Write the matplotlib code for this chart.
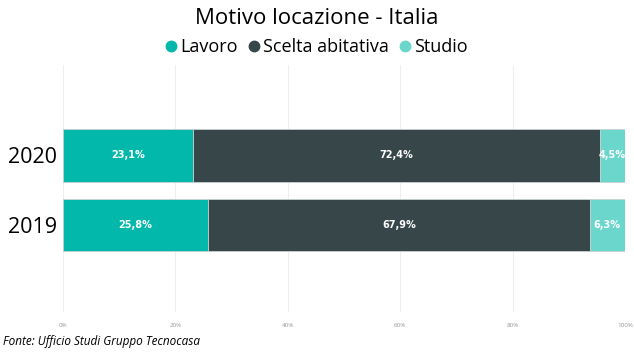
import matplotlib.pyplot as plt
from matplotlib.lines import Line2D
import numpy as np

plt.rcParams['font.family'] = ['Open Sans', 'DejaVu Sans']

anni = ['2019', '2020']
lavoro = [25.8, 23.1]
scelta = [67.9, 72.4]
studio = [6.3, 4.5]
serie = ['Lavoro', 'Scelta abitativa', 'Studio']
colori = ['#01B8AA', '#374649', '#6AD6CC']

fig = plt.figure(figsize=(6.34, 3.62), dpi=100)
ax = fig.add_axes([63 / 634, 50 / 362, 562 / 634, 247 / 362])

y = np.arange(len(anni))
left = np.zeros(len(anni))
for vals, nome, col in zip([lavoro, scelta, studio], serie, colori):
    ax.barh(y, vals, left=left, height=0.757, color=col, label=nome,
            edgecolor='#c8d0d0', linewidth=0.6, zorder=2)
    for yi, l, v in zip(y, left, vals):
        ax.text(l + v / 2, yi, f'{v:.1f}%'.replace('.', ','), ha='center', va='center',
                color='white', fontsize=7, family='DejaVu Sans Condensed',
                weight='bold', zorder=3)
    left = left + np.array(vals)

ax.set_xlim(0, 100)
ax.set_ylim(-1.243, 2.286)
ax.set_xticks([0, 20, 40, 60, 80, 100])
ax.set_xticklabels(['0%', '20%', '40%', '60%', '80%', '100%'], fontsize=4.5, color='#999999')
ax.set_yticks(y)
ax.set_yticklabels(anni, fontsize=15.5)
ax.tick_params(length=0, pad=4)
ax.tick_params(axis='x', pad=8)
ax.grid(axis='x', color='#eeeeee', linewidth=0.8, zorder=0)
for s in ax.spines.values():
    s.set_visible(False)

fig.text(0.5, 1 - 18 / 362, 'Motivo locazione - Italia', ha='center', va='center', fontsize=16)
handles = [Line2D([], [], marker='o', linestyle='', markersize=7.5, color=c) for c in colori]
fig.legend(handles, serie, loc='center', bbox_to_anchor=(0.5, 1 - 47 / 362), ncol=3,
           frameon=False, fontsize=13, handlelength=0.6, handletextpad=0.2,
           columnspacing=0.6)
fig.text(3 / 634, 1 - 342 / 362, 'Fonte: Ufficio Studi Gruppo Tecnocasa', fontsize=8.5,
         style='italic', va='center')

fig.savefig('out.png', dpi=100)
